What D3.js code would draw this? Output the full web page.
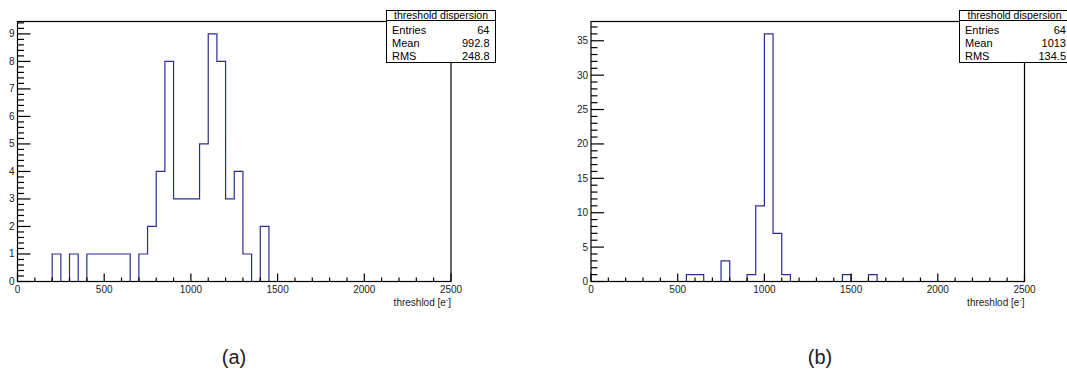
<!DOCTYPE html>
<html>
<head>
<meta charset="utf-8">
<script src="https://cdnjs.cloudflare.com/ajax/libs/d3/7.8.5/d3.min.js"></script>
<style>
  body { margin: 0; background: #fff; }
  svg { display: block; font-family: "Liberation Sans", Arial, sans-serif; }
</style>
</head>
<body>
<div id="chart"></div>
<script>
/*** DADOS - histogramas com bins de 50 e- ***/
var binWidth = 50;

// (a) primeiro bin começa em 200
var startA = 200;
var countsA = [1, 0, 1, 0, 1, 1, 1, 1, 1, 0, 1, 2, 4, 8, 3, 3, 3, 5, 9, 8, 3, 4, 1, 0, 2];

// (b) primeiro bin começa em 550
var startB = 550;
var countsB = [1, 1, 0, 0, 3, 0, 0, 1, 11, 36, 7, 1, 0, 0, 0, 0, 0, 0, 1, 0, 0, 1];

var xTicks = [0, 500, 1000, 1500, 2000, 2500];
var yTicksA = [0, 1, 2, 3, 4, 5, 6, 7, 8, 9];
var yTicksB = [0, 5, 10, 15, 20, 25, 30, 35];

var statsLabels = ["Entries", "Mean", "RMS"];
var statsA = ["64", "992.8", "248.8"];
var statsB = ["64", "1013", "134.5"];

var width = 1067;
var height = 372;

var svg = d3.select('#chart').append('svg')
    .attr('width', width)
    .attr('height', height);

function desenha(p) {
    var g = svg.append('g');

    var x = d3.scaleLinear().domain([0, 2500]).range([p.left, p.right]);
    var y = d3.scaleLinear().domain([0, p.ymax]).range([p.bottom, p.top]);

    // contorno do histograma (degraus)
    var pts = [[p.start, 0]];
    p.counts.forEach(function (c, i) {
        pts.push([p.start + i * binWidth, c]);
        pts.push([p.start + (i + 1) * binWidth, c]);
    });
    pts.push([p.start + p.counts.length * binWidth, 0]);

    var line = d3.line()
        .x(function (d) { return x(d[0]); })
        .y(function (d) { return y(d[1]); });

    g.append('path')
        .attr('d', line(pts))
        .attr('fill', 'none')
        .attr('stroke', '#2c2c90')
        .attr('stroke-width', 1.2);

    // moldura
    g.append('rect')
        .attr('x', p.left).attr('y', p.top)
        .attr('width', p.right - p.left).attr('height', p.bottom - p.top)
        .attr('fill', 'none').attr('stroke', '#000').attr('stroke-width', 1.2);

    // eixo x - ticks
    var xMinor = d3.range(0, 2501, 100);
    g.selectAll('line.xt').data(xMinor).enter().append('line')
        .attr('x1', function (d) { return x(d); })
        .attr('x2', function (d) { return x(d); })
        .attr('y1', p.bottom)
        .attr('y2', function (d) { return p.bottom - (d % 500 == 0 ? 8 : 4); })
        .attr('stroke', '#000').attr('stroke-width', 1.2);

    g.selectAll('text.xl').data(xTicks).enter().append('text')
        .attr('x', function (d) { return x(d); })
        .attr('y', p.bottom + 11)
        .attr('text-anchor', 'middle')
        .attr('font-size', 10)
        .attr('fill', '#222')
        .text(function (d) { return d; });

    // eixo y - ticks
    var yMinor = d3.range(0, p.ymax, p.yminor);
    g.selectAll('line.yt').data(yMinor).enter().append('line')
        .attr('x1', p.left)
        .attr('x2', function (d) {
            var major = Math.abs(d / p.ymajor - Math.round(d / p.ymajor)) < 1e-6;
            return p.left + (major ? 13 : 6.5);
        })
        .attr('y1', function (d) { return y(d); })
        .attr('y2', function (d) { return y(d); })
        .attr('stroke', '#000').attr('stroke-width', 1.2);

    g.selectAll('text.yl').data(p.yTicks).enter().append('text')
        .attr('x', p.left - 3)
        .attr('y', function (d) { return y(d) + 3.5; })
        .attr('text-anchor', 'end')
        .attr('font-size', 10)
        .attr('fill', '#222')
        .text(function (d) { return d; });

    // titulo do eixo x
    var t = g.append('text')
        .attr('x', p.right)
        .attr('y', p.bottom + 24)
        .attr('text-anchor', 'end')
        .attr('font-size', 10)
        .attr('fill', '#222');
    t.append('tspan').text('threshlod [e');
    t.append('tspan').attr('dy', -4).attr('font-size', 7).text('-');
    t.append('tspan').attr('dy', 4).text(']');

    // caixa de estatisticas
    var bx = p.boxLeft, bw = p.boxWidth;
    g.append('rect')
        .attr('x', bx).attr('y', 10.5)
        .attr('width', bw).attr('height', 52)
        .attr('fill', '#fff').attr('stroke', '#000').attr('stroke-width', 1);
    g.append('line')
        .attr('x1', bx).attr('x2', bx + bw)
        .attr('y1', 20.5).attr('y2', 20.5)
        .attr('stroke', '#000').attr('stroke-width', 1);
    g.append('text')
        .attr('x', bx + bw / 2).attr('y', 18.5)
        .attr('text-anchor', 'middle')
        .attr('font-size', 10.5)
        .text('threshold dispersion');

    statsLabels.forEach(function (lab, i) {
        g.append('text')
            .attr('x', bx + 5.5).attr('y', 34 + i * 13)
            .attr('font-size', 11)
            .text(lab);
        g.append('text')
            .attr('x', p.valRight).attr('y', 34 + i * 13)
            .attr('text-anchor', 'end')
            .attr('font-size', 11)
            .text(p.stats[i]);
    });

    // legenda (a) / (b)
    g.append('text')
        .attr('x', p.labX).attr('y', 364)
        .attr('text-anchor', 'middle')
        .attr('font-size', 20)
        .attr('fill', '#222')
        .text(p.label);
}

desenha({
    left: 17.5, right: 451, top: 21.5, bottom: 281.5,
    ymax: 9.45, yminor: 0.2, ymajor: 1, yTicks: yTicksA,
    start: startA, counts: countsA,
    boxLeft: 386.5, boxWidth: 109, valRight: 489.5, stats: statsA,
    label: '(a)', labX: 234
});

desenha({
    left: 591, right: 1024.5, top: 21.5, bottom: 281.5,
    ymax: 37.8, yminor: 1, ymajor: 5, yTicks: yTicksB,
    start: startB, counts: countsB,
    boxLeft: 959.5, boxWidth: 110, valRight: 1066, stats: statsB,
    label: '(b)', labX: 820
});
</script>
</body>
</html>
